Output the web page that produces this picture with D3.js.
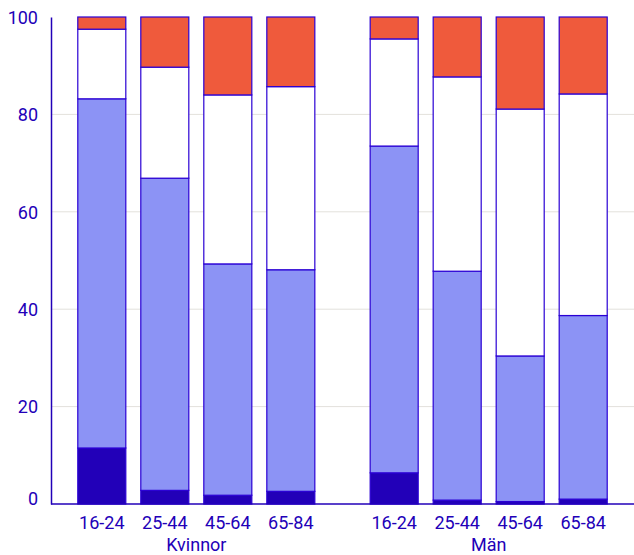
<!DOCTYPE html>
<html>
<head>
<meta charset="utf-8">
<script src="https://cdn.jsdelivr.net/npm/d3@7"></script>
<style>
  body { margin: 0; background: #fff; }
  text { font-family: Roboto, sans-serif; fill: #2200b8; }
</style>
</head>
<body>
<div class="chart"></div>
<script>
var svgWidth = 634;
var svgHeight = 555;

var margin = { top: 17, right: 0, bottom: 51, left: 51 };
var width = svgWidth - margin.left - margin.right;
var height = svgHeight - margin.top - margin.bottom;

// data (percent per segment, bottom to top)
var groups = ["Kvinnor", "Män"];
var ages = ["16-24", "25-44", "45-64", "65-84"];
var seriesKeys = ["s1", "s2", "s3", "s4"];
var s1 = [11.5, 2.8, 1.8, 2.6, 6.4, 0.8, 0.5, 1.0];
var s2 = [71.7, 64.1, 47.5, 45.5, 67.1, 47.0, 29.9, 37.7];
var s3 = [14.3, 22.8, 34.7, 37.6, 22.0, 39.9, 50.7, 45.5];
var s4 = [2.5, 10.3, 16.0, 14.3, 4.5, 12.3, 18.9, 15.8];
var yTicks = [0, 20, 40, 60, 80, 100];
var colors = ["#2200b8", "#8c93f5", "#ffffff", "#ef5a3c"];

var rows = [];
groups.forEach(function(g, gi) {
  ages.forEach(function(a, ai) {
    var i = gi * ages.length + ai;
    rows.push({ group: g, age: a, s1: s1[i], s2: s2[i], s3: s3[i], s4: s4[i] });
  });
});

var svg = d3.select(".chart")
  .append("svg")
  .attr("width", svgWidth)
  .attr("height", svgHeight);

var chartGroup = svg.append("g")
  .attr("transform", `translate(${margin.left}, ${margin.top})`);

var x0 = d3.scaleBand()
  .domain(groups)
  .range([0, width])
  .paddingInner(0.138)
  .paddingOuter(0.066);

var x1 = d3.scaleBand()
  .domain(ages)
  .range([0, x0.bandwidth()])
  .paddingInner(0.238)
  .paddingOuter(0.119);

var y = d3.scaleLinear()
  .domain([0, 100])
  .range([height, 0]);

// gridlines
chartGroup.selectAll(".grid")
  .data(yTicks.filter(d => d > 0 && d < 100))
  .enter()
  .append("line")
  .attr("x1", 0)
  .attr("x2", width)
  .attr("y1", d => y(d))
  .attr("y2", d => y(d))
  .attr("stroke", "#e3e1dc")
  .attr("stroke-width", 1);

var stack = d3.stack().keys(seriesKeys);
var stacked = stack(rows);

var layers = chartGroup.selectAll(".layer")
  .data(stacked)
  .enter()
  .append("g")
  .attr("fill", (d, i) => colors[i]);

layers.selectAll("rect")
  .data(d => d)
  .enter()
  .append("rect")
  .attr("x", d => x0(d.data.group) + x1(d.data.age))
  .attr("width", x1.bandwidth())
  .attr("y", d => y(d[1]))
  .attr("height", d => y(d[0]) - y(d[1]))
  .attr("stroke", "#2a00d4")
  .attr("stroke-width", 1.2);

// y axis
var leftAxis = d3.axisLeft(y).tickValues(yTicks).tickSize(0).tickPadding(13);
var yAxis = chartGroup.append("g").call(leftAxis);
yAxis.select(".domain").attr("stroke", "#2200b8").attr("stroke-width", 1.5);
yAxis.selectAll("text")
  .attr("font-size", "18px")
  .attr("font-family", "Roboto, sans-serif")
  .attr("fill", "#2200b8")
  .attr("dy", d => d === 0 ? "0.05em" : "0.35em");

// x axis
chartGroup.append("line")
  .attr("x1", 0)
  .attr("x2", width)
  .attr("y1", height)
  .attr("y2", height)
  .attr("stroke", "#2200b8")
  .attr("stroke-width", 1.5);

chartGroup.selectAll(".agelabel")
  .data(rows)
  .enter()
  .append("text")
  .attr("x", d => x0(d.group) + x1(d.age) + x1.bandwidth() / 2)
  .attr("y", height + 25)
  .attr("text-anchor", "middle")
  .attr("font-size", "18px")
  .text(d => d.age);

chartGroup.selectAll(".grouplabel")
  .data(groups)
  .enter()
  .append("text")
  .attr("x", d => x0(d) + x0.bandwidth() / 2)
  .attr("y", height + 47)
  .attr("text-anchor", "middle")
  .attr("font-size", "18px")
  .text(d => d);
</script>
</body>
</html>
